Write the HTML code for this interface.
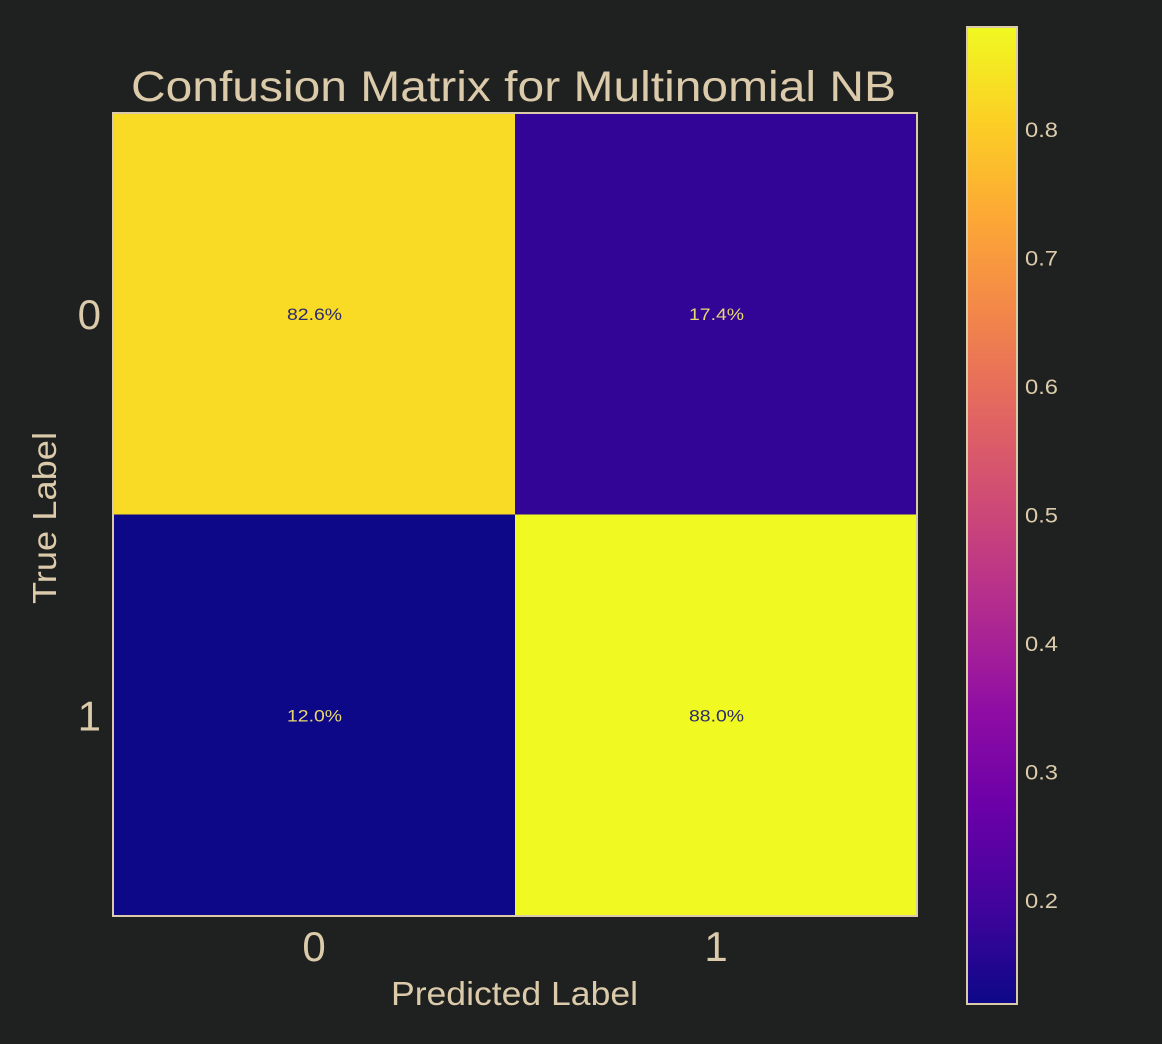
<!DOCTYPE html>
<html><head><meta charset="utf-8"><style>
body{margin:0;background:#1f2121;}
svg{display:block;font-family:"Liberation Sans",sans-serif;}
</style></head><body>
<svg id="c" width="1162" height="1044">
<defs><linearGradient id="g" x1="0" y1="1" x2="0" y2="0">
<stop offset="0" stop-color="#0d0887"/><stop offset="0.1" stop-color="#41049d"/><stop offset="0.2" stop-color="#6a00a8"/><stop offset="0.3" stop-color="#8f0da4"/><stop offset="0.4" stop-color="#b12a90"/><stop offset="0.5" stop-color="#cc4778"/><stop offset="0.6" stop-color="#e16462"/><stop offset="0.7" stop-color="#f2844b"/><stop offset="0.8" stop-color="#fca636"/><stop offset="0.9" stop-color="#fcce25"/><stop offset="1" stop-color="#f0f921"/>
</linearGradient></defs>
<rect width="1162" height="1044" fill="#1f2121"/>
<text x="131" y="101" font-size="43" fill="#dccbaa" textLength="765" lengthAdjust="spacingAndGlyphs">Confusion Matrix for Multinomial NB</text>
<text x="391" y="1005" font-size="33" fill="#dccbaa" textLength="247" lengthAdjust="spacingAndGlyphs">Predicted Label</text>
<text transform="translate(56,604) rotate(-90)" font-size="33" fill="#dccbaa" textLength="172" lengthAdjust="spacingAndGlyphs">True Label</text>
<g id="cells"></g>
<rect x="113" y="113" width="804" height="803" fill="none" stroke="#dccbaa" stroke-width="2"/>
<rect x="967" y="27" width="50" height="977" fill="url(#g)" stroke="#dccbaa" stroke-width="2"/>
<g id="cbt"></g>
</svg>
<script>
const classes=["0","1"];
const values=[[0.826,0.174],[0.120,0.880]];
const labels=[["82.6%","17.4%"],["12.0%","88.0%"]];
const cbTicks=[0.2,0.3,0.4,0.5,0.6,0.7,0.8];
const vmin=0.12,vmax=0.88;
const stops=["#0d0887","#41049d","#6a00a8","#8f0da4","#b12a90","#cc4778","#e16462","#f2844b","#fca636","#fcce25","#f0f921"];
function plasma(t){t=Math.max(0,Math.min(1,t));const f=t*10,i=Math.min(9,Math.floor(f)),r=f-i;
const a=stops[i],b=stops[i+1];const p=(h,k)=>parseInt(h.substr(1+2*k,2),16);
return "rgb("+[0,1,2].map(k=>Math.round(p(a,k)+(p(b,k)-p(a,k))*r)).join(",")+")";}
const NS="http://www.w3.org/2000/svg";
const x0=113,y0=113,cw=402,ch=401.5;
const xs=i=>x0+i*cw, ys=j=>y0+j*ch;
const cb=v=>1004-(v-vmin)/(vmax-vmin)*977;
const svg=document.getElementById('c'),cells=document.getElementById('cells'),cbt=document.getElementById('cbt');
function mk(t,at,p){const e=document.createElementNS(NS,t);for(const k in at)e.setAttribute(k,at[k]);p.appendChild(e);return e;}
values.forEach((row,j)=>row.forEach((v,i)=>{
 const r=mk('rect',{x:xs(i),y:ys(j),width:cw,height:ch,fill:plasma((v-vmin)/(vmax-vmin))},cells);
 
 
 const t=mk('text',{x:xs(i)+cw/2-27,y:ys(j)+ch/2+6,'font-size':17,textLength:55,lengthAdjust:'spacingAndGlyphs',fill:v>0.5?'#2c2a6e':'#e8d870'},cells);
 t.textContent=labels[j][i];
 
 
}));
classes.forEach((c,i)=>{
 const tx=mk('text',{x:xs(i)+cw/2,y:961,'font-size':42,'text-anchor':'middle',fill:'#dccbaa'},svg);
 tx.textContent=c;
 
 
 const ty=mk('text',{x:101,y:ys(i)+ch/2+15,'font-size':42,'text-anchor':'end',fill:'#dccbaa'},svg);
 ty.textContent=c;
 
 
});
cbTicks.forEach(v=>{
 const t=mk('text',{x:1025,y:cb(v)+7,'font-size':21,textLength:33,lengthAdjust:'spacingAndGlyphs',fill:'#dccbaa'},cbt);
 t.textContent=v.toFixed(1);
 
 
});
</script>
</body></html>
